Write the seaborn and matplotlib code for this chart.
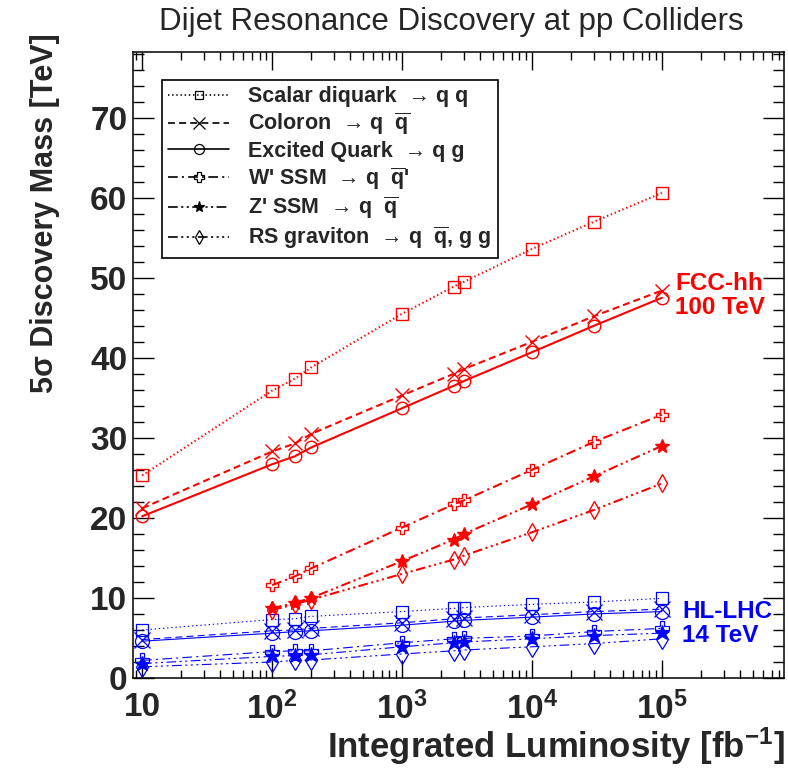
import matplotlib
matplotlib.use("Agg")
import matplotlib.pyplot as plt
from matplotlib.lines import Line2D
from matplotlib.ticker import LogLocator, MultipleLocator, FixedLocator, NullFormatter
import seaborn as sns
import pandas as pd

# ---- data: 5 sigma discovery mass [TeV] vs integrated luminosity [fb^-1] ----
lumi = [10, 100, 150, 200, 1000, 2500, 3000, 10000, 30000, 100000]
lumi_no10 = [100, 150, 200, 1000, 2500, 3000, 10000, 30000, 100000]

fcc_scalar = [25.3, 35.9, 37.4, 38.8, 45.5, 48.9, 49.5, 53.6, 57.0, 60.6]
fcc_coloron = [21.2, 28.3, 29.3, 30.5, 35.3, 38.0, 38.6, 42.0, 45.2, 48.4]
fcc_excited = [20.2, 26.7, 27.7, 28.8, 33.7, 36.5, 37.1, 40.7, 44.0, 47.5]
fcc_wprime = [11.6, 12.7, 13.7, 18.8, 21.7, 22.2, 26.0, 29.5, 32.9]
fcc_zprime = [8.7, 9.4, 10.0, 14.6, 17.3, 18.0, 21.7, 25.2, 29.0]
fcc_rsg = [8.5, 9.2, 9.8, 13.0, 14.8, 15.3, 18.2, 21.0, 24.3]

hl_scalar = [6.0, 7.3, 7.4, 7.7, 8.3, 8.7, 8.8, 9.2, 9.5, 9.95]
hl_coloron = [4.8, 5.9, 6.0, 6.2, 6.9, 7.4, 7.5, 7.9, 8.3, 8.6]
hl_excited = [4.6, 5.6, 5.8, 5.9, 6.6, 7.1, 7.2, 7.6, 8.0, 8.3]
hl_wprime = [2.2, 3.3, 3.4, 3.4, 4.4, 4.9, 4.95, 5.25, 5.8, 6.2]
hl_zprime = [1.8, 2.7, 2.8, 2.9, 3.9, 4.4, 4.5, 4.9, 5.3, 5.6]
hl_rsg = [1.4, 2.0, 2.2, 2.25, 3.0, 3.4, 3.5, 3.9, 4.3, 4.9]

model_labels = [
    "Scalar diquark  → q q",
    r"Coloron  → q  $\overline{\mathrm{q}}$",
    "Excited Quark  → q g",
    r"W' SSM  → q  $\overline{\mathrm{q}}$'",
    r"Z' SSM  → q  $\overline{\mathrm{q}}$",
    r"RS graviton  → q  $\overline{\mathrm{q}}$, g g",
]
x_tick_values = [10, 100, 1000, 10000, 100000]
x_tick_labels = ["10", r"10$^{2}$", r"10$^{3}$", r"10$^{4}$", r"10$^{5}$"]

# ---- style ----
sns.set_style("ticks")
plt.rcParams["font.family"] = ["Liberation Sans", "DejaVu Sans"]
plt.rcParams["font.weight"] = "bold"
plt.rcParams["mathtext.fontset"] = "custom"
plt.rcParams["mathtext.rm"] = "Liberation Sans:bold"
plt.rcParams["mathtext.bf"] = "Liberation Sans:bold"
plt.rcParams["mathtext.it"] = "Liberation Sans:bold"
plt.rcParams["mathtext.sf"] = "Liberation Sans:bold"
plt.rcParams["lines.scale_dashes"] = False

RED = "#ff0000"
BLUE = "#0000ff"

styles = [
    dict(ls=(0, (1, 2)), marker="s", ms=8, filled=False),
    dict(ls=(0, (5, 3)), marker="x", ms=10, filled=False),
    dict(ls="-", marker="o", ms=9, filled=False),
    dict(ls=(0, (7, 3, 1.5, 3)), marker="P", ms=9, filled=False),
    dict(ls=(0, (7, 2.5, 1.5, 2.5, 1.5, 2.5)), marker="*", ms=10, filled=True),
    dict(ls=(0, (7, 2.5, 1.5, 2.5, 1.5, 2.5, 1.5, 2.5)), marker="d", ms=9, filled=False),
]

fig = plt.figure(figsize=(7.88, 7.71), dpi=100)
ax = fig.add_axes([133 / 788, 93 / 771, 651 / 788, 626 / 771])

fcc_series = [(lumi, fcc_scalar), (lumi, fcc_coloron), (lumi, fcc_excited),
              (lumi_no10, fcc_wprime), (lumi_no10, fcc_zprime), (lumi_no10, fcc_rsg)]
hl_series = [(lumi, hl_scalar), (lumi, hl_coloron), (lumi, hl_excited),
             (lumi, hl_wprime), (lumi, hl_zprime), (lumi, hl_rsg)]


def draw(series, color, lw, mew, scale):
    for (xs, ys), st in zip(series, styles):
        df = pd.DataFrame({"lumi": xs, "mass": ys})
        sns.lineplot(data=df, x="lumi", y="mass", ax=ax, color=color,
                     linestyle=st["ls"], linewidth=lw, marker=st["marker"],
                     markersize=st["ms"] * scale, markeredgecolor=color,
                     markerfacecolor=color if st["filled"] else "none",
                     markeredgewidth=mew, errorbar=None, legend=False)


draw(hl_series, BLUE, 0.8, 0.9, 1.12)
draw(fcc_series, RED, 1.5, 1.0, 1.0)

# ---- axes ----
ax.set_xscale("log")
ax.set_xlim(8.5, 8.7e5)
ax.set_ylim(0, 78.2)
ax.xaxis.set_major_locator(FixedLocator(x_tick_values))
ax.set_xticklabels(x_tick_labels)
ax.xaxis.set_minor_locator(LogLocator(base=10, subs=range(2, 10), numticks=20))
ax.xaxis.set_minor_formatter(NullFormatter())
ax.yaxis.set_major_locator(MultipleLocator(10))
ax.yaxis.set_minor_locator(MultipleLocator(2))
ax.set_xlabel("")
ax.set_ylabel("")

for s in ax.spines.values():
    s.set_linewidth(1.1)
    s.set_color("black")
    s.set_visible(True)

ax.tick_params(axis="both", which="both", direction="in", top=True, right=True,
               width=1.0, color="black")
ax.tick_params(axis="x", which="major", length=13, labelsize=24, pad=10)
ax.tick_params(axis="x", which="minor", length=6)
ax.tick_params(axis="y", which="major", length=15, labelsize=24, pad=4)
ax.tick_params(axis="y", which="minor", length=8)
for lab in ax.get_xticklabels() + ax.get_yticklabels():
    lab.set_fontweight("bold")

# ---- legend ----
handles = [
    Line2D([], [], color="black", linestyle=st["ls"], linewidth=1.2,
           marker=st["marker"], markersize=st["ms"] * 0.8,
           markerfacecolor="black" if st["filled"] else "none",
           markeredgecolor="black", markeredgewidth=0.9)
    for st in styles
]
leg = ax.legend(handles, model_labels, loc="upper left",
                bbox_to_anchor=(29 / 651, 598 / 626), borderaxespad=0,
                frameon=True, fancybox=False, framealpha=1, edgecolor="black",
                prop={"size": 15.5, "weight": "bold"}, handlelength=2.8,
                handletextpad=0.9, labelspacing=0.16, borderpad=0.3)
leg.get_frame().set_linewidth(1.2)

# ---- annotations ----
fig.text(675 / 788, 1 - 283 / 771, "FCC-hh", color=RED, fontsize=17.5,
         fontweight="bold", ha="left", va="center")
fig.text(675 / 788, 1 - 308 / 771, "100 TeV", color=RED, fontsize=17.5,
         fontweight="bold", ha="left", va="center")
fig.text(682 / 788, 1 - 612 / 771, "HL-LHC", color=BLUE, fontsize=17.5,
         fontweight="bold", ha="left", va="center")
fig.text(682 / 788, 1 - 636 / 771, "14 TeV", color=BLUE, fontsize=17.5,
         fontweight="bold", ha="left", va="center")

fig.text(451 / 788, 1 - 22 / 771, "Dijet Resonance Discovery at pp Colliders",
         fontsize=22.5, fontweight="normal", ha="center", va="center")
fig.text(45 / 788, 1 - 33 / 771, "5σ Discovery Mass [TeV]", fontsize=22,
         fontweight="bold", rotation=90, ha="center", va="top")
fig.text(785 / 788, 4 / 771, r"Integrated Luminosity [fb$^{-1}$]",
         fontsize=25, fontweight="bold", ha="right", va="bottom")

fig.savefig("out.png", dpi=100, facecolor="white")
